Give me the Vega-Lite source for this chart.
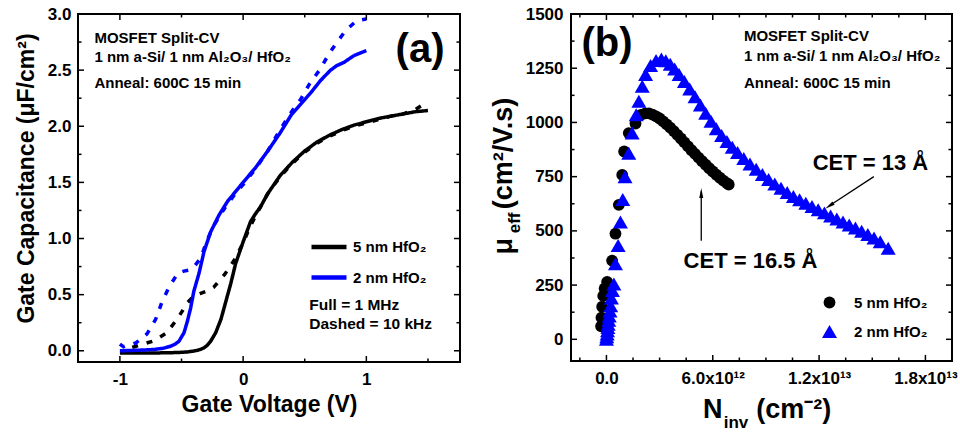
{
  "$schema": "https://vega.github.io/schema/vega-lite/v6.json",
  "padding": {"left": 14, "top": 4, "right": 0, "bottom": 0},
  "spacing": 27,
  "resolve": {
    "scale": {"color": "independent", "shape": "independent", "size": "independent", "strokeDash": "independent"},
    "legend": {"color": "independent", "shape": "independent", "size": "independent", "strokeDash": "independent"}
  },
  "config": {
    "font": "Liberation Sans",
    "view": {"stroke": "black", "strokeWidth": 2},
    "axis": {"domain": false, "grid": false, "ticks": false, "labelFont": "Liberation Sans", "labelFontWeight": "bold", "labelFontSize": 17, "labelColor": "black", "titleFont": "Liberation Sans", "titleFontWeight": "bold", "titleColor": "black"},
    "text": {"font": "Liberation Sans", "fontWeight": "bold", "color": "black"},
    "rule": {"color": "black", "strokeWidth": 1.5}
  },
  "datasets": {
    "cv": [
      {"V": -1.0, "C": -0.02, "sample": "5 nm HfO₂", "freq": "1 MHz"},
      {"V": -0.8, "C": -0.02, "sample": "5 nm HfO₂", "freq": "1 MHz"},
      {"V": -0.6, "C": -0.018, "sample": "5 nm HfO₂", "freq": "1 MHz"},
      {"V": -0.5, "C": -0.014, "sample": "5 nm HfO₂", "freq": "1 MHz"},
      {"V": -0.45, "C": -0.01, "sample": "5 nm HfO₂", "freq": "1 MHz"},
      {"V": -0.4, "C": -0.002, "sample": "5 nm HfO₂", "freq": "1 MHz"},
      {"V": -0.37, "C": 0.004, "sample": "5 nm HfO₂", "freq": "1 MHz"},
      {"V": -0.34, "C": 0.015, "sample": "5 nm HfO₂", "freq": "1 MHz"},
      {"V": -0.317, "C": 0.027, "sample": "5 nm HfO₂", "freq": "1 MHz"},
      {"V": -0.29, "C": 0.05, "sample": "5 nm HfO₂", "freq": "1 MHz"},
      {"V": -0.263, "C": 0.086, "sample": "5 nm HfO₂", "freq": "1 MHz"},
      {"V": -0.223, "C": 0.16, "sample": "5 nm HfO₂", "freq": "1 MHz"},
      {"V": -0.18, "C": 0.28, "sample": "5 nm HfO₂", "freq": "1 MHz"},
      {"V": -0.14, "C": 0.44, "sample": "5 nm HfO₂", "freq": "1 MHz"},
      {"V": -0.1, "C": 0.6, "sample": "5 nm HfO₂", "freq": "1 MHz"},
      {"V": -0.06, "C": 0.78, "sample": "5 nm HfO₂", "freq": "1 MHz"},
      {"V": 0.0, "C": 0.97, "sample": "5 nm HfO₂", "freq": "1 MHz"},
      {"V": 0.06, "C": 1.15, "sample": "5 nm HfO₂", "freq": "1 MHz"},
      {"V": 0.1, "C": 1.22, "sample": "5 nm HfO₂", "freq": "1 MHz"},
      {"V": 0.14, "C": 1.28, "sample": "5 nm HfO₂", "freq": "1 MHz"},
      {"V": 0.2, "C": 1.4, "sample": "5 nm HfO₂", "freq": "1 MHz"},
      {"V": 0.3, "C": 1.56, "sample": "5 nm HfO₂", "freq": "1 MHz"},
      {"V": 0.4, "C": 1.68, "sample": "5 nm HfO₂", "freq": "1 MHz"},
      {"V": 0.5, "C": 1.78, "sample": "5 nm HfO₂", "freq": "1 MHz"},
      {"V": 0.6, "C": 1.86, "sample": "5 nm HfO₂", "freq": "1 MHz"},
      {"V": 0.7, "C": 1.92, "sample": "5 nm HfO₂", "freq": "1 MHz"},
      {"V": 0.8, "C": 1.97, "sample": "5 nm HfO₂", "freq": "1 MHz"},
      {"V": 0.9, "C": 2.01, "sample": "5 nm HfO₂", "freq": "1 MHz"},
      {"V": 1.0, "C": 2.04, "sample": "5 nm HfO₂", "freq": "1 MHz"},
      {"V": 1.1, "C": 2.07, "sample": "5 nm HfO₂", "freq": "1 MHz"},
      {"V": 1.2, "C": 2.09, "sample": "5 nm HfO₂", "freq": "1 MHz"},
      {"V": 1.3, "C": 2.11, "sample": "5 nm HfO₂", "freq": "1 MHz"},
      {"V": 1.4, "C": 2.13, "sample": "5 nm HfO₂", "freq": "1 MHz"},
      {"V": 1.5, "C": 2.14, "sample": "5 nm HfO₂", "freq": "1 MHz"},
      {"V": -0.9, "C": 0.03, "sample": "5 nm HfO₂", "freq": "10 kHz"},
      {"V": -0.87, "C": 0.04, "sample": "5 nm HfO₂", "freq": "10 kHz"},
      {"V": -0.72, "C": 0.09, "sample": "5 nm HfO₂", "freq": "10 kHz"},
      {"V": -0.62, "C": 0.16, "sample": "5 nm HfO₂", "freq": "10 kHz"},
      {"V": -0.53, "C": 0.29, "sample": "5 nm HfO₂", "freq": "10 kHz"},
      {"V": -0.45, "C": 0.43, "sample": "5 nm HfO₂", "freq": "10 kHz"},
      {"V": -0.4, "C": 0.49, "sample": "5 nm HfO₂", "freq": "10 kHz"},
      {"V": -0.35, "C": 0.51, "sample": "5 nm HfO₂", "freq": "10 kHz"},
      {"V": -0.3, "C": 0.53, "sample": "5 nm HfO₂", "freq": "10 kHz"},
      {"V": -0.24, "C": 0.565, "sample": "5 nm HfO₂", "freq": "10 kHz"},
      {"V": -0.15, "C": 0.68, "sample": "5 nm HfO₂", "freq": "10 kHz"},
      {"V": -0.07, "C": 0.81, "sample": "5 nm HfO₂", "freq": "10 kHz"},
      {"V": 0.0, "C": 0.96, "sample": "5 nm HfO₂", "freq": "10 kHz"},
      {"V": 0.05, "C": 1.09, "sample": "5 nm HfO₂", "freq": "10 kHz"},
      {"V": 0.1, "C": 1.2, "sample": "5 nm HfO₂", "freq": "10 kHz"},
      {"V": 0.2, "C": 1.4, "sample": "5 nm HfO₂", "freq": "10 kHz"},
      {"V": 0.3, "C": 1.55, "sample": "5 nm HfO₂", "freq": "10 kHz"},
      {"V": 0.4, "C": 1.67, "sample": "5 nm HfO₂", "freq": "10 kHz"},
      {"V": 0.5, "C": 1.77, "sample": "5 nm HfO₂", "freq": "10 kHz"},
      {"V": 0.6, "C": 1.85, "sample": "5 nm HfO₂", "freq": "10 kHz"},
      {"V": 0.7, "C": 1.91, "sample": "5 nm HfO₂", "freq": "10 kHz"},
      {"V": 0.8, "C": 1.96, "sample": "5 nm HfO₂", "freq": "10 kHz"},
      {"V": 0.9, "C": 2.0, "sample": "5 nm HfO₂", "freq": "10 kHz"},
      {"V": 1.0, "C": 2.03, "sample": "5 nm HfO₂", "freq": "10 kHz"},
      {"V": 1.1, "C": 2.06, "sample": "5 nm HfO₂", "freq": "10 kHz"},
      {"V": 1.2, "C": 2.09, "sample": "5 nm HfO₂", "freq": "10 kHz"},
      {"V": 1.3, "C": 2.11, "sample": "5 nm HfO₂", "freq": "10 kHz"},
      {"V": 1.4, "C": 2.15, "sample": "5 nm HfO₂", "freq": "10 kHz"},
      {"V": 1.47, "C": 2.2, "sample": "5 nm HfO₂", "freq": "10 kHz"},
      {"V": -1.0, "C": 0.0, "sample": "2 nm HfO₂", "freq": "1 MHz"},
      {"V": -0.9, "C": 0.003, "sample": "2 nm HfO₂", "freq": "1 MHz"},
      {"V": -0.8, "C": 0.007, "sample": "2 nm HfO₂", "freq": "1 MHz"},
      {"V": -0.72, "C": 0.012, "sample": "2 nm HfO₂", "freq": "1 MHz"},
      {"V": -0.65, "C": 0.022, "sample": "2 nm HfO₂", "freq": "1 MHz"},
      {"V": -0.59, "C": 0.04, "sample": "2 nm HfO₂", "freq": "1 MHz"},
      {"V": -0.55, "C": 0.06, "sample": "2 nm HfO₂", "freq": "1 MHz"},
      {"V": -0.52, "C": 0.086, "sample": "2 nm HfO₂", "freq": "1 MHz"},
      {"V": -0.48, "C": 0.16, "sample": "2 nm HfO₂", "freq": "1 MHz"},
      {"V": -0.453, "C": 0.26, "sample": "2 nm HfO₂", "freq": "1 MHz"},
      {"V": -0.426, "C": 0.38, "sample": "2 nm HfO₂", "freq": "1 MHz"},
      {"V": -0.4, "C": 0.53, "sample": "2 nm HfO₂", "freq": "1 MHz"},
      {"V": -0.358, "C": 0.69, "sample": "2 nm HfO₂", "freq": "1 MHz"},
      {"V": -0.317, "C": 0.885, "sample": "2 nm HfO₂", "freq": "1 MHz"},
      {"V": -0.263, "C": 1.06, "sample": "2 nm HfO₂", "freq": "1 MHz"},
      {"V": -0.195, "C": 1.21, "sample": "2 nm HfO₂", "freq": "1 MHz"},
      {"V": -0.127, "C": 1.33, "sample": "2 nm HfO₂", "freq": "1 MHz"},
      {"V": -0.06, "C": 1.42, "sample": "2 nm HfO₂", "freq": "1 MHz"},
      {"V": 0.0, "C": 1.5, "sample": "2 nm HfO₂", "freq": "1 MHz"},
      {"V": 0.1, "C": 1.63, "sample": "2 nm HfO₂", "freq": "1 MHz"},
      {"V": 0.2, "C": 1.78, "sample": "2 nm HfO₂", "freq": "1 MHz"},
      {"V": 0.3, "C": 1.94, "sample": "2 nm HfO₂", "freq": "1 MHz"},
      {"V": 0.39, "C": 2.1, "sample": "2 nm HfO₂", "freq": "1 MHz"},
      {"V": 0.47, "C": 2.2, "sample": "2 nm HfO₂", "freq": "1 MHz"},
      {"V": 0.55, "C": 2.3, "sample": "2 nm HfO₂", "freq": "1 MHz"},
      {"V": 0.63, "C": 2.41, "sample": "2 nm HfO₂", "freq": "1 MHz"},
      {"V": 0.71, "C": 2.5, "sample": "2 nm HfO₂", "freq": "1 MHz"},
      {"V": 0.76, "C": 2.54, "sample": "2 nm HfO₂", "freq": "1 MHz"},
      {"V": 0.82, "C": 2.57, "sample": "2 nm HfO₂", "freq": "1 MHz"},
      {"V": 0.9, "C": 2.63, "sample": "2 nm HfO₂", "freq": "1 MHz"},
      {"V": 1.0, "C": 2.674, "sample": "2 nm HfO₂", "freq": "1 MHz"},
      {"V": -1.0, "C": 0.06, "sample": "2 nm HfO₂", "freq": "10 kHz"},
      {"V": -0.97, "C": 0.035, "sample": "2 nm HfO₂", "freq": "10 kHz"},
      {"V": -0.87, "C": 0.07, "sample": "2 nm HfO₂", "freq": "10 kHz"},
      {"V": -0.78, "C": 0.15, "sample": "2 nm HfO₂", "freq": "10 kHz"},
      {"V": -0.71, "C": 0.28, "sample": "2 nm HfO₂", "freq": "10 kHz"},
      {"V": -0.66, "C": 0.43, "sample": "2 nm HfO₂", "freq": "10 kHz"},
      {"V": -0.6, "C": 0.57, "sample": "2 nm HfO₂", "freq": "10 kHz"},
      {"V": -0.53, "C": 0.69, "sample": "2 nm HfO₂", "freq": "10 kHz"},
      {"V": -0.48, "C": 0.71, "sample": "2 nm HfO₂", "freq": "10 kHz"},
      {"V": -0.43, "C": 0.72, "sample": "2 nm HfO₂", "freq": "10 kHz"},
      {"V": -0.39, "C": 0.76, "sample": "2 nm HfO₂", "freq": "10 kHz"},
      {"V": -0.345, "C": 0.825, "sample": "2 nm HfO₂", "freq": "10 kHz"},
      {"V": -0.29, "C": 0.99, "sample": "2 nm HfO₂", "freq": "10 kHz"},
      {"V": -0.236, "C": 1.12, "sample": "2 nm HfO₂", "freq": "10 kHz"},
      {"V": -0.15, "C": 1.27, "sample": "2 nm HfO₂", "freq": "10 kHz"},
      {"V": -0.05, "C": 1.42, "sample": "2 nm HfO₂", "freq": "10 kHz"},
      {"V": 0.0, "C": 1.48, "sample": "2 nm HfO₂", "freq": "10 kHz"},
      {"V": 0.1, "C": 1.62, "sample": "2 nm HfO₂", "freq": "10 kHz"},
      {"V": 0.2, "C": 1.78, "sample": "2 nm HfO₂", "freq": "10 kHz"},
      {"V": 0.3, "C": 1.97, "sample": "2 nm HfO₂", "freq": "10 kHz"},
      {"V": 0.4, "C": 2.14, "sample": "2 nm HfO₂", "freq": "10 kHz"},
      {"V": 0.47, "C": 2.245, "sample": "2 nm HfO₂", "freq": "10 kHz"},
      {"V": 0.54, "C": 2.38, "sample": "2 nm HfO₂", "freq": "10 kHz"},
      {"V": 0.62, "C": 2.5, "sample": "2 nm HfO₂", "freq": "10 kHz"},
      {"V": 0.7, "C": 2.65, "sample": "2 nm HfO₂", "freq": "10 kHz"},
      {"V": 0.75, "C": 2.73, "sample": "2 nm HfO₂", "freq": "10 kHz"},
      {"V": 0.83, "C": 2.85, "sample": "2 nm HfO₂", "freq": "10 kHz"},
      {"V": 0.92, "C": 2.94, "sample": "2 nm HfO₂", "freq": "10 kHz"},
      {"V": 1.0, "C": 2.955, "sample": "2 nm HfO₂", "freq": "10 kHz"}
    ],
    "mob": [
      {"N": -3.0e11, "mu": 60, "sample": "5 nm HfO₂"},
      {"N": -2.8e11, "mu": 100, "sample": "5 nm HfO₂"},
      {"N": -2.4e11, "mu": 150, "sample": "5 nm HfO₂"},
      {"N": -1.8e11, "mu": 200, "sample": "5 nm HfO₂"},
      {"N": -1.0e11, "mu": 235, "sample": "5 nm HfO₂"},
      {"N": 4.0e10, "mu": 265, "sample": "5 nm HfO₂"},
      {"N": 3.2e11, "mu": 363, "sample": "5 nm HfO₂"},
      {"N": 5.1e11, "mu": 487, "sample": "5 nm HfO₂"},
      {"N": 7.0e11, "mu": 620, "sample": "5 nm HfO₂"},
      {"N": 8.9e11, "mu": 758, "sample": "5 nm HfO₂"},
      {"N": 1.0e12, "mu": 866, "sample": "5 nm HfO₂"},
      {"N": 1.26e12, "mu": 951, "sample": "5 nm HfO₂"},
      {"N": 1.64e12, "mu": 995, "sample": "5 nm HfO₂"},
      {"N": 1.95e12, "mu": 1035, "sample": "5 nm HfO₂"},
      {"N": 2.2e12, "mu": 1042, "sample": "5 nm HfO₂"},
      {"N": 2.4e12, "mu": 1042, "sample": "5 nm HfO₂"},
      {"N": 2.6e12, "mu": 1036, "sample": "5 nm HfO₂"},
      {"N": 2.8e12, "mu": 1028, "sample": "5 nm HfO₂"},
      {"N": 3.0e12, "mu": 1018, "sample": "5 nm HfO₂"},
      {"N": 3.2e12, "mu": 1005, "sample": "5 nm HfO₂"},
      {"N": 3.4e12, "mu": 991, "sample": "5 nm HfO₂"},
      {"N": 3.6e12, "mu": 976, "sample": "5 nm HfO₂"},
      {"N": 3.8e12, "mu": 960, "sample": "5 nm HfO₂"},
      {"N": 4.0e12, "mu": 943, "sample": "5 nm HfO₂"},
      {"N": 4.2e12, "mu": 926, "sample": "5 nm HfO₂"},
      {"N": 4.4e12, "mu": 908, "sample": "5 nm HfO₂"},
      {"N": 4.6e12, "mu": 890, "sample": "5 nm HfO₂"},
      {"N": 4.8e12, "mu": 872, "sample": "5 nm HfO₂"},
      {"N": 5.0e12, "mu": 855, "sample": "5 nm HfO₂"},
      {"N": 5.2e12, "mu": 838, "sample": "5 nm HfO₂"},
      {"N": 5.4e12, "mu": 821, "sample": "5 nm HfO₂"},
      {"N": 5.6e12, "mu": 805, "sample": "5 nm HfO₂"},
      {"N": 5.8e12, "mu": 789, "sample": "5 nm HfO₂"},
      {"N": 6.0e12, "mu": 774, "sample": "5 nm HfO₂"},
      {"N": 6.2e12, "mu": 759, "sample": "5 nm HfO₂"},
      {"N": 6.4e12, "mu": 745, "sample": "5 nm HfO₂"},
      {"N": 6.6e12, "mu": 732, "sample": "5 nm HfO₂"},
      {"N": 6.8e12, "mu": 720, "sample": "5 nm HfO₂"},
      {"N": 6.9e12, "mu": 714, "sample": "5 nm HfO₂"},
      {"N": 0, "mu": 0, "sample": "2 nm HfO₂"},
      {"N": 2.0e10, "mu": 12, "sample": "2 nm HfO₂"},
      {"N": 4.0e10, "mu": 25, "sample": "2 nm HfO₂"},
      {"N": 6.0e10, "mu": 40, "sample": "2 nm HfO₂"},
      {"N": 8.0e10, "mu": 55, "sample": "2 nm HfO₂"},
      {"N": 1.0e11, "mu": 70, "sample": "2 nm HfO₂"},
      {"N": 1.3e11, "mu": 88, "sample": "2 nm HfO₂"},
      {"N": 1.6e11, "mu": 108, "sample": "2 nm HfO₂"},
      {"N": 2.0e11, "mu": 130, "sample": "2 nm HfO₂"},
      {"N": 2.4e11, "mu": 155, "sample": "2 nm HfO₂"},
      {"N": 2.8e11, "mu": 190, "sample": "2 nm HfO₂"},
      {"N": 3.4e11, "mu": 225, "sample": "2 nm HfO₂"},
      {"N": 4.2e11, "mu": 255, "sample": "2 nm HfO₂"},
      {"N": 5.1e11, "mu": 348, "sample": "2 nm HfO₂"},
      {"N": 6.6e11, "mu": 433, "sample": "2 nm HfO₂"},
      {"N": 7.9e11, "mu": 541, "sample": "2 nm HfO₂"},
      {"N": 9.2e11, "mu": 645, "sample": "2 nm HfO₂"},
      {"N": 1.05e12, "mu": 750, "sample": "2 nm HfO₂"},
      {"N": 1.26e12, "mu": 858, "sample": "2 nm HfO₂"},
      {"N": 1.45e12, "mu": 951, "sample": "2 nm HfO₂"},
      {"N": 1.68e12, "mu": 1036, "sample": "2 nm HfO₂"},
      {"N": 1.83e12, "mu": 1098, "sample": "2 nm HfO₂"},
      {"N": 2.02e12, "mu": 1167, "sample": "2 nm HfO₂"},
      {"N": 2.21e12, "mu": 1221, "sample": "2 nm HfO₂"},
      {"N": 2.49e12, "mu": 1262, "sample": "2 nm HfO₂"},
      {"N": 2.8e12, "mu": 1286, "sample": "2 nm HfO₂"},
      {"N": 3.1e12, "mu": 1292, "sample": "2 nm HfO₂"},
      {"N": 3.35e12, "mu": 1284, "sample": "2 nm HfO₂"},
      {"N": 3.6e12, "mu": 1268, "sample": "2 nm HfO₂"},
      {"N": 3.85e12, "mu": 1246, "sample": "2 nm HfO₂"},
      {"N": 4.1e12, "mu": 1221, "sample": "2 nm HfO₂"},
      {"N": 4.4e12, "mu": 1189, "sample": "2 nm HfO₂"},
      {"N": 4.7e12, "mu": 1154, "sample": "2 nm HfO₂"},
      {"N": 5.0e12, "mu": 1118, "sample": "2 nm HfO₂"},
      {"N": 5.3e12, "mu": 1080, "sample": "2 nm HfO₂"},
      {"N": 5.6e12, "mu": 1042, "sample": "2 nm HfO₂"},
      {"N": 5.9e12, "mu": 1005, "sample": "2 nm HfO₂"},
      {"N": 6.2e12, "mu": 971, "sample": "2 nm HfO₂"},
      {"N": 6.5e12, "mu": 940, "sample": "2 nm HfO₂"},
      {"N": 6.8e12, "mu": 912, "sample": "2 nm HfO₂"},
      {"N": 7.1e12, "mu": 886, "sample": "2 nm HfO₂"},
      {"N": 7.4e12, "mu": 861, "sample": "2 nm HfO₂"},
      {"N": 7.75e12, "mu": 834, "sample": "2 nm HfO₂"},
      {"N": 8.1e12, "mu": 808, "sample": "2 nm HfO₂"},
      {"N": 8.45e12, "mu": 784, "sample": "2 nm HfO₂"},
      {"N": 8.8e12, "mu": 760, "sample": "2 nm HfO₂"},
      {"N": 9.15e12, "mu": 737, "sample": "2 nm HfO₂"},
      {"N": 9.5e12, "mu": 716, "sample": "2 nm HfO₂"},
      {"N": 9.85e12, "mu": 696, "sample": "2 nm HfO₂"},
      {"N": 1.02e13, "mu": 677, "sample": "2 nm HfO₂"},
      {"N": 1.055e13, "mu": 659, "sample": "2 nm HfO₂"},
      {"N": 1.09e13, "mu": 643, "sample": "2 nm HfO₂"},
      {"N": 1.125e13, "mu": 627, "sample": "2 nm HfO₂"},
      {"N": 1.16e13, "mu": 612, "sample": "2 nm HfO₂"},
      {"N": 1.195e13, "mu": 597, "sample": "2 nm HfO₂"},
      {"N": 1.23e13, "mu": 583, "sample": "2 nm HfO₂"},
      {"N": 1.265e13, "mu": 569, "sample": "2 nm HfO₂"},
      {"N": 1.3e13, "mu": 555, "sample": "2 nm HfO₂"},
      {"N": 1.335e13, "mu": 541, "sample": "2 nm HfO₂"},
      {"N": 1.37e13, "mu": 527, "sample": "2 nm HfO₂"},
      {"N": 1.405e13, "mu": 513, "sample": "2 nm HfO₂"},
      {"N": 1.44e13, "mu": 498, "sample": "2 nm HfO₂"},
      {"N": 1.475e13, "mu": 483, "sample": "2 nm HfO₂"},
      {"N": 1.51e13, "mu": 467, "sample": "2 nm HfO₂"},
      {"N": 1.545e13, "mu": 450, "sample": "2 nm HfO₂"},
      {"N": 1.59e13, "mu": 420, "sample": "2 nm HfO₂"}
    ]
  },
  "hconcat": [
    {
      "width": 382,
      "height": 348,
      "resolve": {"axis": {"x": "independent", "y": "independent"}},
      "layer": [
        {
          "data": {"name": "cv"},
          "mark": {"type": "line", "strokeWidth": 3.5, "strokeCap": "butt"},
          "encoding": {
            "x": {"field": "V", "type": "quantitative", "scale": {"domain": [-1.34, 1.76], "nice": false, "zero": false},
              "axis": {"orient": "bottom", "values": [-1, 0, 1], "labelPadding": 9, "labelExpr": "replace(datum.label, '−', '-')", "title": "Gate Voltage (V)", "titleFontSize": 23, "titlePadding": 6}},
            "y": {"field": "C", "type": "quantitative", "scale": {"domain": [-0.1, 3.0], "nice": false, "zero": false},
              "axis": {"orient": "left", "values": [0, 0.5, 1, 1.5, 2, 2.5, 3], "format": ".1f", "labelPadding": 7, "title": "Gate Capacitance (μF/cm²)", "titleFontSize": 23, "titlePadding": 9, "titleY": 164}},
            "color": {"field": "sample", "type": "nominal", "scale": {"domain": ["5 nm HfO₂", "2 nm HfO₂"], "range": ["#000000", "#0000ff"]},
              "legend": {"orient": "none", "legendX": 231, "legendY": 213, "title": null, "symbolType": "stroke", "symbolSize": 1225, "symbolStrokeWidth": 4.5, "labelFontSize": 15, "labelFont": "Liberation Sans", "labelFontWeight": "bold", "labelColor": "black", "rowPadding": 1.5, "padding": 0, "labelOffset": 4}},
            "strokeDash": {"field": "freq", "type": "nominal", "scale": {"domain": ["1 MHz", "10 kHz"], "range": [[1, 0], [6, 9]]}, "legend": null}
          }
        },
        {
          "data": {"values": [{"v": -1}, {"v": 0}, {"v": 1}]},
          "mark": "rule",
          "encoding": {"x": {"field": "v", "type": "quantitative", "axis": null}, "y": {"datum": -0.1, "axis": null}, "y2": {"datum": -0.047}}
        },
        {
          "data": {"values": [{"v": -1}, {"v": 0}, {"v": 1}]},
          "mark": "rule",
          "encoding": {"x": {"field": "v", "type": "quantitative", "axis": null}, "y": {"datum": 3.0, "axis": null}, "y2": {"datum": 2.947}}
        },
        {
          "data": {"values": [{"v": -0.5}, {"v": 0.5}, {"v": 1.5}]},
          "mark": "rule",
          "encoding": {"x": {"field": "v", "type": "quantitative", "axis": null}, "y": {"datum": -0.1, "axis": null}, "y2": {"datum": -0.069}}
        },
        {
          "data": {"values": [{"v": -0.5}, {"v": 0.5}, {"v": 1.5}]},
          "mark": "rule",
          "encoding": {"x": {"field": "v", "type": "quantitative", "axis": null}, "y": {"datum": 3.0, "axis": null}, "y2": {"datum": 2.969}}
        },
        {
          "data": {"values": [{"v": 0}, {"v": 0.5}, {"v": 1}, {"v": 1.5}, {"v": 2}, {"v": 2.5}]},
          "mark": "rule",
          "encoding": {"y": {"field": "v", "type": "quantitative", "axis": null}, "x": {"datum": -1.34, "axis": null}, "x2": {"datum": -1.291}}
        },
        {
          "data": {"values": [{"v": 0}, {"v": 0.5}, {"v": 1}, {"v": 1.5}, {"v": 2}, {"v": 2.5}]},
          "mark": "rule",
          "encoding": {"y": {"field": "v", "type": "quantitative", "axis": null}, "x": {"datum": 1.76, "axis": null}, "x2": {"datum": 1.711}}
        },
        {
          "data": {"values": [{"v": 0.25}, {"v": 0.75}, {"v": 1.25}, {"v": 1.75}, {"v": 2.25}, {"v": 2.75}]},
          "mark": "rule",
          "encoding": {"y": {"field": "v", "type": "quantitative", "axis": null}, "x": {"datum": -1.34, "axis": null}, "x2": {"datum": -1.3115}}
        },
        {
          "data": {"values": [{"v": 0.25}, {"v": 0.75}, {"v": 1.25}, {"v": 1.75}, {"v": 2.25}, {"v": 2.75}]},
          "mark": "rule",
          "encoding": {"y": {"field": "v", "type": "quantitative", "axis": null}, "x": {"datum": 1.76, "axis": null}, "x2": {"datum": 1.7315}}
        },
        {
          "data": {"values": [
            {"x": -1.207, "y": 2.79, "t": "MOSFET Split-CV"},
            {"x": -1.207, "y": 2.615, "t": "1 nm a-Si/ 1 nm Al₂O₃/ HfO₂"},
            {"x": -1.207, "y": 2.384, "t": "Anneal: 600C 15 min"}
          ]},
          "mark": {"type": "text", "fontSize": 15, "align": "left", "baseline": "middle"},
          "encoding": {
            "x": {"field": "x", "type": "quantitative", "axis": null},
            "y": {"field": "y", "type": "quantitative", "axis": null},
            "text": {"field": "t"}
          }
        },
        {
          "data": {"values": [
            {"x": 0.537, "y": 0.41, "t": "Full = 1 MHz"},
            {"x": 0.537, "y": 0.235, "t": "Dashed = 10 kHz"}
          ]},
          "mark": {"type": "text", "fontSize": 15.5, "align": "left", "baseline": "middle"},
          "encoding": {
            "x": {"field": "x", "type": "quantitative", "axis": null},
            "y": {"field": "y", "type": "quantitative", "axis": null},
            "text": {"field": "t"}
          }
        },
        {
          "data": {"values": [{"x": 1.634, "y": 2.68, "t": "(a)"}]},
          "mark": {"type": "text", "fontSize": 40, "align": "right", "baseline": "middle"},
          "encoding": {
            "x": {"field": "x", "type": "quantitative", "axis": null},
            "y": {"field": "y", "type": "quantitative", "axis": null},
            "text": {"field": "t"}
          }
        }
      ]
    },
    {
      "width": 381,
      "height": 347,
      "resolve": {"axis": {"x": "independent", "y": "independent"}},
      "layer": [
        {
          "data": {"name": "mob"},
          "mark": {"type": "point", "filled": true, "opacity": 1, "strokeWidth": 0},
          "encoding": {
            "x": {"field": "N", "type": "quantitative", "scale": {"domain": [-2e12, 1.95e13], "nice": false, "zero": false},
              "axis": {"orient": "bottom", "values": [0, 6e12, 1.2e13, 1.8e13], "labelPadding": 9, "title": null,
                "labelExpr": "datum.value == 0 ? '0.0' : (datum.value < 1e13 ? format(datum.value / 1e12, '.1f') + 'x10¹²' : format(datum.value / 1e13, '.1f') + 'x10¹³')"}},
            "y": {"field": "mu", "type": "quantitative", "scale": {"domain": [-100, 1500], "nice": false, "zero": false},
              "axis": {"orient": "left", "values": [0, 250, 500, 750, 1000, 1250, 1500], "format": "d", "labelPadding": 8, "title": null}},
            "color": {"field": "sample", "type": "nominal", "scale": {"domain": ["5 nm HfO₂", "2 nm HfO₂"], "range": ["#000000", "#0000ff"]},
              "legend": {"orient": "none", "legendX": 250, "legendY": 281, "title": null, "symbolSize": 190, "labelFontSize": 15, "labelFont": "Liberation Sans", "labelFontWeight": "bold", "labelColor": "black", "rowPadding": 12, "padding": 0, "labelOffset": 16}},
            "shape": {"field": "sample", "type": "nominal", "scale": {"domain": ["5 nm HfO₂", "2 nm HfO₂"], "range": ["circle", "triangle-up"]},
              "legend": {"orient": "none", "legendX": 250, "legendY": 281, "title": null, "symbolSize": 190, "labelFontSize": 15, "labelFont": "Liberation Sans", "labelFontWeight": "bold", "labelColor": "black", "rowPadding": 12, "padding": 0, "labelOffset": 16}},
            "size": {"field": "sample", "type": "nominal", "scale": {"domain": ["5 nm HfO₂", "2 nm HfO₂"], "range": [140, 225]}, "legend": null}
          }
        },
        {
          "data": {"values": [{"v": 0}, {"v": 6e12}, {"v": 1.2e13}, {"v": 1.8e13}]},
          "mark": "rule",
          "encoding": {"x": {"field": "v", "type": "quantitative", "axis": null}, "y": {"datum": -100, "axis": null}, "y2": {"datum": -72}}
        },
        {
          "data": {"values": [{"v": 0}, {"v": 6e12}, {"v": 1.2e13}, {"v": 1.8e13}]},
          "mark": "rule",
          "encoding": {"x": {"field": "v", "type": "quantitative", "axis": null}, "y": {"datum": 1500, "axis": null}, "y2": {"datum": 1472}}
        },
        {
          "data": {"values": [{"v": -1.5e12}, {"v": 1.5e12}, {"v": 3e12}, {"v": 4.5e12}, {"v": 7.5e12}, {"v": 9e12}, {"v": 1.05e13}, {"v": 1.35e13}, {"v": 1.5e13}, {"v": 1.65e13}]},
          "mark": "rule",
          "encoding": {"x": {"field": "v", "type": "quantitative", "axis": null}, "y": {"datum": -100, "axis": null}, "y2": {"datum": -84}}
        },
        {
          "data": {"values": [{"v": -1.5e12}, {"v": 1.5e12}, {"v": 3e12}, {"v": 4.5e12}, {"v": 7.5e12}, {"v": 9e12}, {"v": 1.05e13}, {"v": 1.35e13}, {"v": 1.5e13}, {"v": 1.65e13}]},
          "mark": "rule",
          "encoding": {"x": {"field": "v", "type": "quantitative", "axis": null}, "y": {"datum": 1500, "axis": null}, "y2": {"datum": 1484}}
        },
        {
          "data": {"values": [{"v": 0}, {"v": 250}, {"v": 500}, {"v": 750}, {"v": 1000}, {"v": 1250}]},
          "mark": "rule",
          "encoding": {"y": {"field": "v", "type": "quantitative", "axis": null}, "x": {"datum": -2e12, "axis": null}, "x2": {"datum": -1.66e12}}
        },
        {
          "data": {"values": [{"v": 0}, {"v": 250}, {"v": 500}, {"v": 750}, {"v": 1000}, {"v": 1250}]},
          "mark": "rule",
          "encoding": {"y": {"field": "v", "type": "quantitative", "axis": null}, "x": {"datum": 1.95e13, "axis": null}, "x2": {"datum": 1.916e13}}
        },
        {
          "data": {"values": [{"v": 125}, {"v": 375}, {"v": 625}, {"v": 875}, {"v": 1125}, {"v": 1375}]},
          "mark": "rule",
          "encoding": {"y": {"field": "v", "type": "quantitative", "axis": null}, "x": {"datum": -2e12, "axis": null}, "x2": {"datum": -1.8e12}}
        },
        {
          "data": {"values": [{"v": 125}, {"v": 375}, {"v": 625}, {"v": 875}, {"v": 1125}, {"v": 1375}]},
          "mark": "rule",
          "encoding": {"y": {"field": "v", "type": "quantitative", "axis": null}, "x": {"datum": 1.95e13, "axis": null}, "x2": {"datum": 1.93e13}}
        },
        {
          "data": {"values": [
            {"x": 7.76e12, "y": 1397, "t": "MOSFET Split-CV"},
            {"x": 7.76e12, "y": 1305, "t": "1 nm a-Si/ 1 nm Al₂O₃/ HfO₂"},
            {"x": 7.76e12, "y": 1183, "t": "Anneal: 600C 15 min"}
          ]},
          "mark": {"type": "text", "fontSize": 15, "align": "left", "baseline": "middle"},
          "encoding": {
            "x": {"field": "x", "type": "quantitative", "axis": null},
            "y": {"field": "y", "type": "quantitative", "axis": null},
            "text": {"field": "t"}
          }
        },
        {
          "data": {"values": [{"x": -1.41e12, "y": 1361, "t": "(b)"}]},
          "mark": {"type": "text", "fontSize": 40, "align": "left", "baseline": "middle"},
          "encoding": {
            "x": {"field": "x", "type": "quantitative", "axis": null},
            "y": {"field": "y", "type": "quantitative", "axis": null},
            "text": {"field": "t"}
          }
        },
        {
          "data": {"values": [
            {"x": 1.49e13, "y": 812, "t": "CET = 13 Å"},
            {"x": 8.13e12, "y": 363, "t": "CET = 16.5 Å"}
          ]},
          "mark": {"type": "text", "fontSize": 22, "align": "center", "baseline": "middle"},
          "encoding": {
            "x": {"field": "x", "type": "quantitative", "axis": null},
            "y": {"field": "y", "type": "quantitative", "axis": null},
            "text": {"field": "t"}
          }
        },
        {
          "data": {"values": [
            {"x": 5.35e12, "y": 455, "x2": 5.35e12, "y2": 680},
            {"x": 1.509e13, "y": 750, "x2": 1.26e13, "y2": 617}
          ]},
          "mark": {"type": "rule", "strokeWidth": 1.3},
          "encoding": {
            "x": {"field": "x", "type": "quantitative", "axis": null},
            "y": {"field": "y", "type": "quantitative", "axis": null},
            "x2": {"field": "x2"},
            "y2": {"field": "y2"}
          }
        },
        {
          "data": {"values": [{"x": 5.35e12, "y": 675}]},
          "mark": {"type": "point", "shape": "M0,-1L0.4,1L-0.4,1Z", "size": 100, "filled": true, "color": "black", "opacity": 1, "angle": 0},
          "encoding": {
            "x": {"field": "x", "type": "quantitative", "axis": null},
            "y": {"field": "y", "type": "quantitative", "axis": null}
          }
        },
        {
          "data": {"values": [{"x": 1.258e13, "y": 615}]},
          "mark": {"type": "point", "shape": "M0,-1L0.4,1L-0.4,1Z", "size": 100, "filled": true, "color": "black", "opacity": 1, "angle": 236.8},
          "encoding": {
            "x": {"field": "x", "type": "quantitative", "axis": null},
            "y": {"field": "y", "type": "quantitative", "axis": null}
          }
        },
        {
          "data": {"values": [
            {"x": -5.32e12, "y": 391, "t": "μ"},
            {"x": -5.32e12, "y": 600, "t": "(cm²/V.s)"}
          ]},
          "mark": {"type": "text", "fontSize": 27, "align": "left", "baseline": "alphabetic", "angle": 270},
          "encoding": {
            "x": {"field": "x", "type": "quantitative", "axis": null},
            "y": {"field": "y", "type": "quantitative", "axis": null},
            "text": {"field": "t"}
          }
        },
        {
          "data": {"values": [{"x": -4.88e12, "y": 489, "t": "eff"}]},
          "mark": {"type": "text", "fontSize": 17, "align": "left", "baseline": "alphabetic", "angle": 270},
          "encoding": {
            "x": {"field": "x", "type": "quantitative", "axis": null},
            "y": {"field": "y", "type": "quantitative", "axis": null},
            "text": {"field": "t"}
          }
        },
        {
          "data": {"values": [
            {"x": 5.45e12, "y": -365, "t": "N"},
            {"x": 8.45e12, "y": -365, "t": "(cm⁻²)"}
          ]},
          "mark": {"type": "text", "fontSize": 27, "align": "left", "baseline": "alphabetic"},
          "encoding": {
            "x": {"field": "x", "type": "quantitative", "axis": null},
            "y": {"field": "y", "type": "quantitative", "axis": null},
            "text": {"field": "t"}
          }
        },
        {
          "data": {"values": [{"x": 6.62e12, "y": -411, "t": "inv"}]},
          "mark": {"type": "text", "fontSize": 17, "align": "left", "baseline": "alphabetic"},
          "encoding": {
            "x": {"field": "x", "type": "quantitative", "axis": null},
            "y": {"field": "y", "type": "quantitative", "axis": null},
            "text": {"field": "t"}
          }
        }
      ]
    }
  ]
}
